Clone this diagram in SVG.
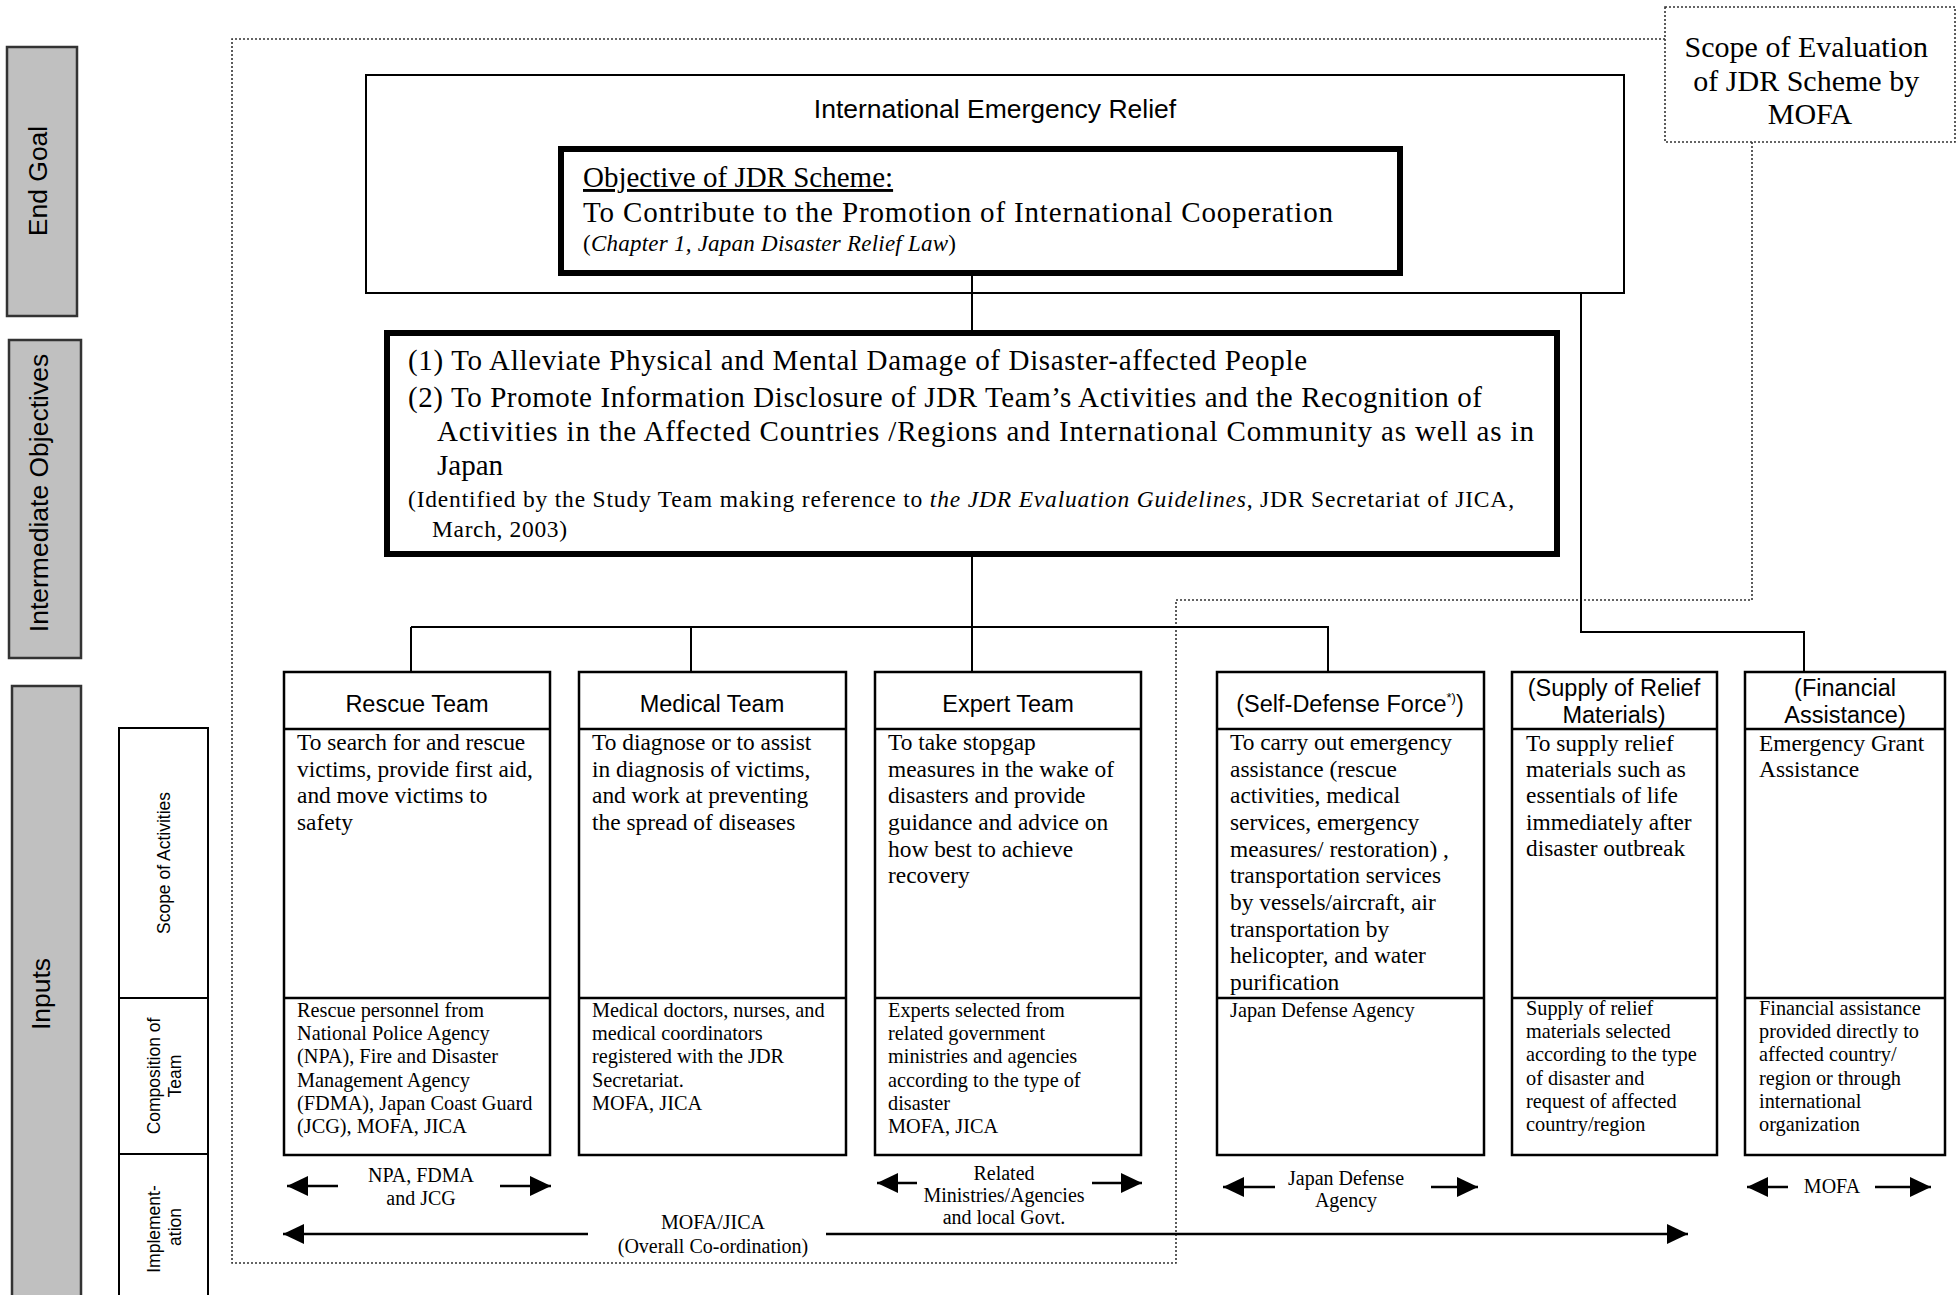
<svg xmlns="http://www.w3.org/2000/svg" width="1959" height="1295" viewBox="0 0 1959 1295">
<defs>
<style>
.gray{fill:#c0c0c0;stroke:#333;stroke-width:2.5}
.box{fill:#fff;stroke:#000;stroke-width:2.5}
.div{stroke:#000;stroke-width:2.5}
.thick{fill:#fff;stroke:#000;stroke-width:6}
.main{fill:#fff;stroke:#000;stroke-width:2}
.dot{fill:none;stroke:#333;stroke-width:1.6;stroke-dasharray:2 2}
.ln{fill:none;stroke:#000;stroke-width:2}
.arr{fill:none;stroke:#000;stroke-width:2.5;marker-end:url(#ah)}
.sans{font-family:"Liberation Sans",Arial,sans-serif;fill:#000}
.serif{font-family:"Liberation Serif","Times New Roman",serif;fill:#000}
.lbl{font-size:26.5px;text-anchor:middle}
.sub{font-size:17.5px;text-anchor:middle}
.hd{font-size:23.5px;text-anchor:middle}
.bd{font-size:23.4px}
.cp{font-size:20.3px}
.im{font-size:20px;text-anchor:middle}
</style>
<marker id="ah" markerUnits="userSpaceOnUse" markerWidth="22" markerHeight="22" refX="21" refY="10" orient="auto">
<path d="M0,0 L21,10 L0,20 Z" fill="#000"/>
</marker>
</defs>
<rect width="1959" height="1295" fill="#fff"/>

<!-- left level labels -->
<g id="label-end-goal">
<rect class="gray" x="7" y="47" width="70" height="269"/>
<text class="sans lbl" transform="translate(47,181) rotate(-90)">End Goal</text>
</g>
<g id="label-intermediate">
<rect class="gray" x="9" y="340" width="72" height="318"/>
<text class="sans lbl" transform="translate(48,493) rotate(-90)">Intermediate Objectives</text>
</g>
<g id="label-inputs">
<rect class="gray" x="12" y="686" width="69" height="620"/>
<text class="sans lbl" transform="translate(50,994) rotate(-90)">Inputs</text>
</g>
<g id="label-sub">
<rect class="box" x="119" y="728" width="89" height="580" style="stroke-width:2"/>
<line class="div" x1="119" y1="998" x2="208" y2="998" style="stroke-width:2"/>
<line class="div" x1="119" y1="1154" x2="208" y2="1154" style="stroke-width:2"/>
<text class="sans sub" transform="translate(170,863) rotate(-90)">Scope of Activities</text>
<text class="sans sub" transform="translate(160,1076) rotate(-90)">Composition of</text>
<text class="sans sub" transform="translate(181,1076) rotate(-90)">Team</text>
<text class="sans sub" transform="translate(160,1229) rotate(-90)">Implement-</text>
<text class="sans sub" transform="translate(181,1227) rotate(-90)">ation</text>
</g>

<!-- scope of evaluation frame -->
<g id="scope-frame">
<path class="dot" d="M1665,39 H232 V1263 H1176 V600 H1752 V142"/>
<rect class="dot" x="1665" y="7" width="290" height="135"/>
<text class="serif" font-size="30" text-anchor="middle">
<tspan x="1810" y="57">Scope of Evaluation</tspan>
<tspan x="1810" y="91">of JDR Scheme by</tspan>
<tspan x="1810" y="124">MOFA</tspan>
</text>
</g>

<!-- end goal -->
<g id="end-goal">
<rect class="main" x="366" y="75" width="1258" height="218"/>
<text class="sans" font-size="26.5" text-anchor="middle" x="995" y="118">International Emergency Relief</text>
</g>
<g id="objective">
<rect class="thick" x="561" y="149" width="839" height="124"/>
<text class="serif" font-size="29" x="583" y="187" text-decoration="underline">Objective of JDR Scheme:</text>
<text class="serif" font-size="29" x="583" y="222" textLength="750">To Contribute to the Promotion of International Cooperation</text>
<text class="serif" font-size="23" x="583" y="251" textLength="373">(<tspan font-style="italic">Chapter 1, Japan Disaster Relief Law</tspan>)</text>
</g>

<!-- intermediate objectives -->
<g id="intermediate">
<rect class="thick" x="387" y="333" width="1170" height="221"/>
<text class="serif" font-size="29" x="408" y="370" textLength="899">(1) To Alleviate Physical and Mental Damage of Disaster-affected People</text>
<text class="serif" font-size="29" x="408" y="407" textLength="1074">(2) To Promote Information Disclosure of JDR Team’s Activities and the Recognition of</text>
<text class="serif" font-size="29" x="437" y="441" textLength="1097">Activities in the Affected Countries /Regions and International Community as well as in</text>
<text class="serif" font-size="29" x="437" y="475">Japan</text>
<text class="serif" font-size="23.5" x="408" y="507" textLength="1106">(Identified by the Study Team making reference to <tspan font-style="italic">the JDR Evaluation Guidelines</tspan>, JDR Secretariat of JICA,</text>
<text class="serif" font-size="23.5" x="432" y="537" textLength="135">March, 2003)</text>
</g>

<!-- connectors -->
<g id="connectors">
<line class="ln" x1="972" y1="276" x2="972" y2="330"/>
<line class="ln" x1="972" y1="557" x2="972" y2="627"/>
<line class="ln" x1="411" y1="627" x2="1329" y2="627"/>
<line class="ln" x1="411" y1="627" x2="411" y2="672"/>
<line class="ln" x1="691" y1="627" x2="691" y2="672"/>
<line class="ln" x1="972" y1="627" x2="972" y2="672"/>
<line class="ln" x1="1328" y1="627" x2="1328" y2="672"/>
<polyline class="ln" points="1581,293 1581,632 1804,632 1804,672"/>
<line class="arr" x1="338" y1="1186" x2="287" y2="1186"/>
<line class="arr" x1="500" y1="1186" x2="551" y2="1186"/>
<line class="arr" x1="917" y1="1183" x2="877" y2="1183"/>
<line class="arr" x1="1092" y1="1183" x2="1142" y2="1183"/>
<line class="arr" x1="1275" y1="1187" x2="1223" y2="1187"/>
<line class="arr" x1="1431" y1="1187" x2="1478" y2="1187"/>
<line class="arr" x1="1788" y1="1187" x2="1747" y2="1187"/>
<line class="arr" x1="1875" y1="1187" x2="1931" y2="1187"/>
<line class="arr" x1="588" y1="1234" x2="283" y2="1234"/>
<line class="arr" x1="826" y1="1234" x2="1688" y2="1234"/>
</g>

<!-- implementation labels -->
<g id="impl-labels" class="serif">
<text class="im"><tspan x="421" y="1182">NPA, FDMA</tspan><tspan x="421" y="1205">and JCG</tspan></text>
<text class="im"><tspan x="1004" y="1180">Related</tspan><tspan x="1004" y="1202">Ministries/Agencies</tspan><tspan x="1004" y="1224">and local Govt.</tspan></text>
<text class="im"><tspan x="1346" y="1185">Japan Defense</tspan><tspan x="1346" y="1207">Agency</tspan></text>
<text class="im"><tspan x="1832" y="1193">MOFA</tspan></text>
<text class="im"><tspan x="713" y="1229">MOFA/JICA</tspan><tspan x="713" y="1253">(Overall Co-ordination)</tspan></text>
</g>

<!-- team boxes -->
<g id="rescue-team">
<rect class="box" x="284" y="672" width="266" height="483"/>
<line class="div" x1="284" y1="729" x2="550" y2="729"/>
<line class="div" x1="284" y1="998" x2="550" y2="998"/>
<text class="sans hd" x="417" y="712">Rescue Team</text>
<text class="serif bd"><tspan x="297" y="750">To search for and rescue</tspan><tspan x="297" y="777">victims, provide first aid,</tspan><tspan x="297" y="803">and move victims to</tspan><tspan x="297" y="830">safety</tspan></text>
<text class="serif cp"><tspan x="297" y="1017">Rescue personnel from</tspan><tspan x="297" y="1040">National Police Agency</tspan><tspan x="297" y="1063">(NPA), Fire and Disaster</tspan><tspan x="297" y="1087">Management Agency</tspan><tspan x="297" y="1110">(FDMA), Japan Coast Guard</tspan><tspan x="297" y="1133">(JCG), MOFA, JICA</tspan></text>
</g>
<g id="medical-team">
<rect class="box" x="579" y="672" width="267" height="483"/>
<line class="div" x1="579" y1="729" x2="846" y2="729"/>
<line class="div" x1="579" y1="998" x2="846" y2="998"/>
<text class="sans hd" x="712" y="712">Medical Team</text>
<text class="serif bd"><tspan x="592" y="750">To diagnose or to assist</tspan><tspan x="592" y="777">in diagnosis of victims,</tspan><tspan x="592" y="803">and work at preventing</tspan><tspan x="592" y="830">the spread of diseases</tspan></text>
<text class="serif cp"><tspan x="592" y="1017">Medical doctors, nurses, and</tspan><tspan x="592" y="1040">medical coordinators</tspan><tspan x="592" y="1063">registered with the JDR</tspan><tspan x="592" y="1087">Secretariat.</tspan><tspan x="592" y="1110">MOFA, JICA</tspan></text>
</g>
<g id="expert-team">
<rect class="box" x="875" y="672" width="266" height="483"/>
<line class="div" x1="875" y1="729" x2="1141" y2="729"/>
<line class="div" x1="875" y1="998" x2="1141" y2="998"/>
<text class="sans hd" x="1008" y="712">Expert Team</text>
<text class="serif bd"><tspan x="888" y="750">To take stopgap</tspan><tspan x="888" y="777">measures in the wake of</tspan><tspan x="888" y="803">disasters and provide</tspan><tspan x="888" y="830">guidance and advice on</tspan><tspan x="888" y="857">how best to achieve</tspan><tspan x="888" y="883">recovery</tspan></text>
<text class="serif cp"><tspan x="888" y="1017">Experts selected from</tspan><tspan x="888" y="1040">related government</tspan><tspan x="888" y="1063">ministries and agencies</tspan><tspan x="888" y="1087">according to the type of</tspan><tspan x="888" y="1110">disaster</tspan><tspan x="888" y="1133">MOFA, JICA</tspan></text>
</g>
<g id="sdf">
<rect class="box" x="1217" y="672" width="267" height="483"/>
<line class="div" x1="1217" y1="729" x2="1484" y2="729"/>
<line class="div" x1="1217" y1="998" x2="1484" y2="998"/>
<text class="sans hd" x="1350" y="712">(Self-Defense Force<tspan font-size="13" dy="-10">*)</tspan><tspan dy="10">)</tspan></text>
<text class="serif bd"><tspan x="1230" y="750">To carry out emergency</tspan><tspan x="1230" y="777">assistance (rescue</tspan><tspan x="1230" y="803">activities, medical</tspan><tspan x="1230" y="830">services, emergency</tspan><tspan x="1230" y="857">measures/ restoration) ,</tspan><tspan x="1230" y="883">transportation services</tspan><tspan x="1230" y="910">by vessels/aircraft, air</tspan><tspan x="1230" y="937">transportation by</tspan><tspan x="1230" y="963">helicopter, and water</tspan><tspan x="1230" y="990">purification</tspan></text>
<text class="serif cp"><tspan x="1230" y="1017">Japan Defense Agency</tspan></text>
</g>
<g id="supply">
<rect class="box" x="1512" y="672" width="205" height="483"/>
<line class="div" x1="1512" y1="729" x2="1717" y2="729"/>
<line class="div" x1="1512" y1="998" x2="1717" y2="998"/>
<text class="sans hd"><tspan x="1614" y="696">(Supply of Relief</tspan><tspan x="1614" y="723">Materials)</tspan></text>
<text class="serif bd"><tspan x="1526" y="751">To supply relief</tspan><tspan x="1526" y="777">materials such as</tspan><tspan x="1526" y="803">essentials of life</tspan><tspan x="1526" y="830">immediately after</tspan><tspan x="1526" y="856">disaster outbreak</tspan></text>
<text class="serif cp"><tspan x="1526" y="1015">Supply of relief</tspan><tspan x="1526" y="1038">materials selected</tspan><tspan x="1526" y="1061">according to the type</tspan><tspan x="1526" y="1085">of disaster and</tspan><tspan x="1526" y="1108">request of affected</tspan><tspan x="1526" y="1131">country/region</tspan></text>
</g>
<g id="financial">
<rect class="box" x="1745" y="672" width="200" height="483"/>
<line class="div" x1="1745" y1="729" x2="1945" y2="729"/>
<line class="div" x1="1745" y1="998" x2="1945" y2="998"/>
<text class="sans hd"><tspan x="1845" y="696">(Financial</tspan><tspan x="1845" y="723">Assistance)</tspan></text>
<text class="serif bd"><tspan x="1759" y="751">Emergency Grant</tspan><tspan x="1759" y="777">Assistance</tspan></text>
<text class="serif cp"><tspan x="1759" y="1015">Financial assistance</tspan><tspan x="1759" y="1038">provided directly to</tspan><tspan x="1759" y="1061">affected country/</tspan><tspan x="1759" y="1085">region or through</tspan><tspan x="1759" y="1108">international</tspan><tspan x="1759" y="1131">organization</tspan></text>
</g>
</svg>
